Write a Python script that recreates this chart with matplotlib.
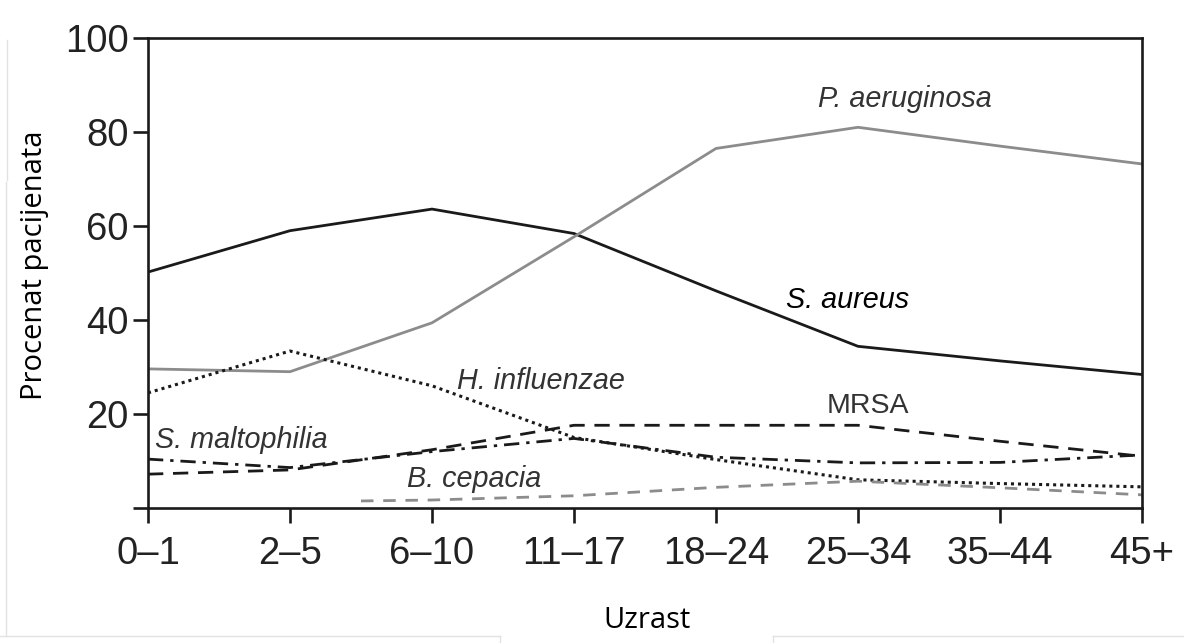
import matplotlib
matplotlib.use("Agg")
import matplotlib.pyplot as plt
from matplotlib.lines import Line2D

# age groups on the x axis
ages = ["0\u20131", "2\u20135", "6\u201310", "11\u201317", "18\u201324", "25\u201334", "35\u201344", "45+"]
x = list(range(len(ages)))

# percent of patients
s_aureus = [50.2, 59.0, 63.6, 58.4, 46.2, 34.4, 31.3, 28.4]
p_aeruginosa = [29.6, 29.0, 39.4, 57.7, 76.5, 81.0, 77.0, 73.2]
h_influenzae = [24.5, 33.4, 26.0, 15.0, 10.3, 6.0, 5.2, 4.5]
mrsa = [7.2, 8.1, 12.4, 17.6, 17.6, 17.6, 14.2, 11.0]
s_maltophilia = [10.4, 8.6, 12.0, 14.8, 10.8, 9.6, 9.7, 11.3]
b_cepacia_x = [1.5, 2, 3, 4, 5, 6, 7]
b_cepacia = [1.5, 1.7, 2.6, 4.4, 5.7, 4.3, 2.8]

yticks = [0, 20, 40, 60, 80, 100]
ytick_labels = ["", "20", "40", "60", "80", "100"]

plt.rcParams['font.family'] = ['Liberation Sans', 'DejaVu Sans']

fig = plt.figure(figsize=(11.84, 6.43), dpi=100)
ax = fig.add_axes([148/1184, 1-508/643, (1142-148)/1184, (508-38)/643])

black = "#1a1a1a"
gray = "#8c8c8c"
lw = 2.0

ax.plot(x, s_aureus, color=black, lw=lw)
ax.plot(x, p_aeruginosa, color=gray, lw=lw)
ax.plot(x, h_influenzae, color=black, lw=2.2, linestyle=(0, (1.0, 1.3)))
ax.plot(x, mrsa, color=black, lw=lw, linestyle=(0, (5.5, 3.5)))
ax.plot(x, s_maltophilia, color=black, lw=lw, linestyle=(0, (5.5, 2.5, 1.2, 2.5)))
ax.plot(b_cepacia_x, b_cepacia, color=gray, lw=lw, linestyle=(0, (4.5, 3.5)))

ax.set_xlim(0, 7)
ax.set_ylim(0, 100)
ax.set_xticks(x)
ax.set_xticklabels(ages, fontsize=27.5, color="#222222")
ax.set_yticks(yticks)
ax.set_yticklabels(ytick_labels, fontsize=27.5, color="#222222")
ax.tick_params(axis='both', direction='out', length=11, width=1.9, color=black)
ax.tick_params(axis='x', pad=9)
ax.tick_params(axis='y', pad=3)
for sp in ax.spines.values():
    sp.set_linewidth(1.9)
    sp.set_color(black)

# series labels
lab = dict(fontsize=20.7, style='italic', color="#333333", ha='center', va='center')
ax.text(5.33, 87.0, "P. aeruginosa", **lab)
ax.text(4.93, 44.2, "S. aureus", fontsize=20.7, style='italic', color="black", ha='center', va='center')
ax.text(2.77, 27.0, "H. influenzae", **lab)
ax.text(5.07, 21.7, "MRSA", fontsize=20.5, color="#333333", ha='center', va='center')
ax.text(0.66, 14.5, "S. maltophilia", **lab)
ax.text(2.3, 6.2, "B. cepacia", **lab)

axis_font = ['Open Sans', 'DejaVu Sans']
fig.text(35/1184, 1-265/643, "Procenat pacijenata", fontsize=21, family=axis_font,
         rotation=90, ha='center', va='center')
fig.text(647/1184, 1-621/643, "Uzrast", fontsize=21, family=axis_font,
         ha='center', va='center')

# faint frame lines left over from the source screenshot
fc = "#e2e2e2"
fig.add_artist(Line2D([7/1184, 7/1184], [1-40/643, 1-180/643], color=fc, lw=1))
fig.add_artist(Line2D([6/1184, 6/1184], [1-182/643, 1-636/643], color=fc, lw=1))
fig.add_artist(Line2D([0, 500/1184], [1-636/643, 1-636/643], color=fc, lw=1))
fig.add_artist(Line2D([500/1184, 500/1184], [1-636/643, 0], color=fc, lw=1))
fig.add_artist(Line2D([773/1184, 1], [1-636/643, 1-636/643], color=fc, lw=1))
fig.add_artist(Line2D([773/1184, 773/1184], [1-636/643, 0], color=fc, lw=1))

fig.savefig("out.png", dpi=100)
